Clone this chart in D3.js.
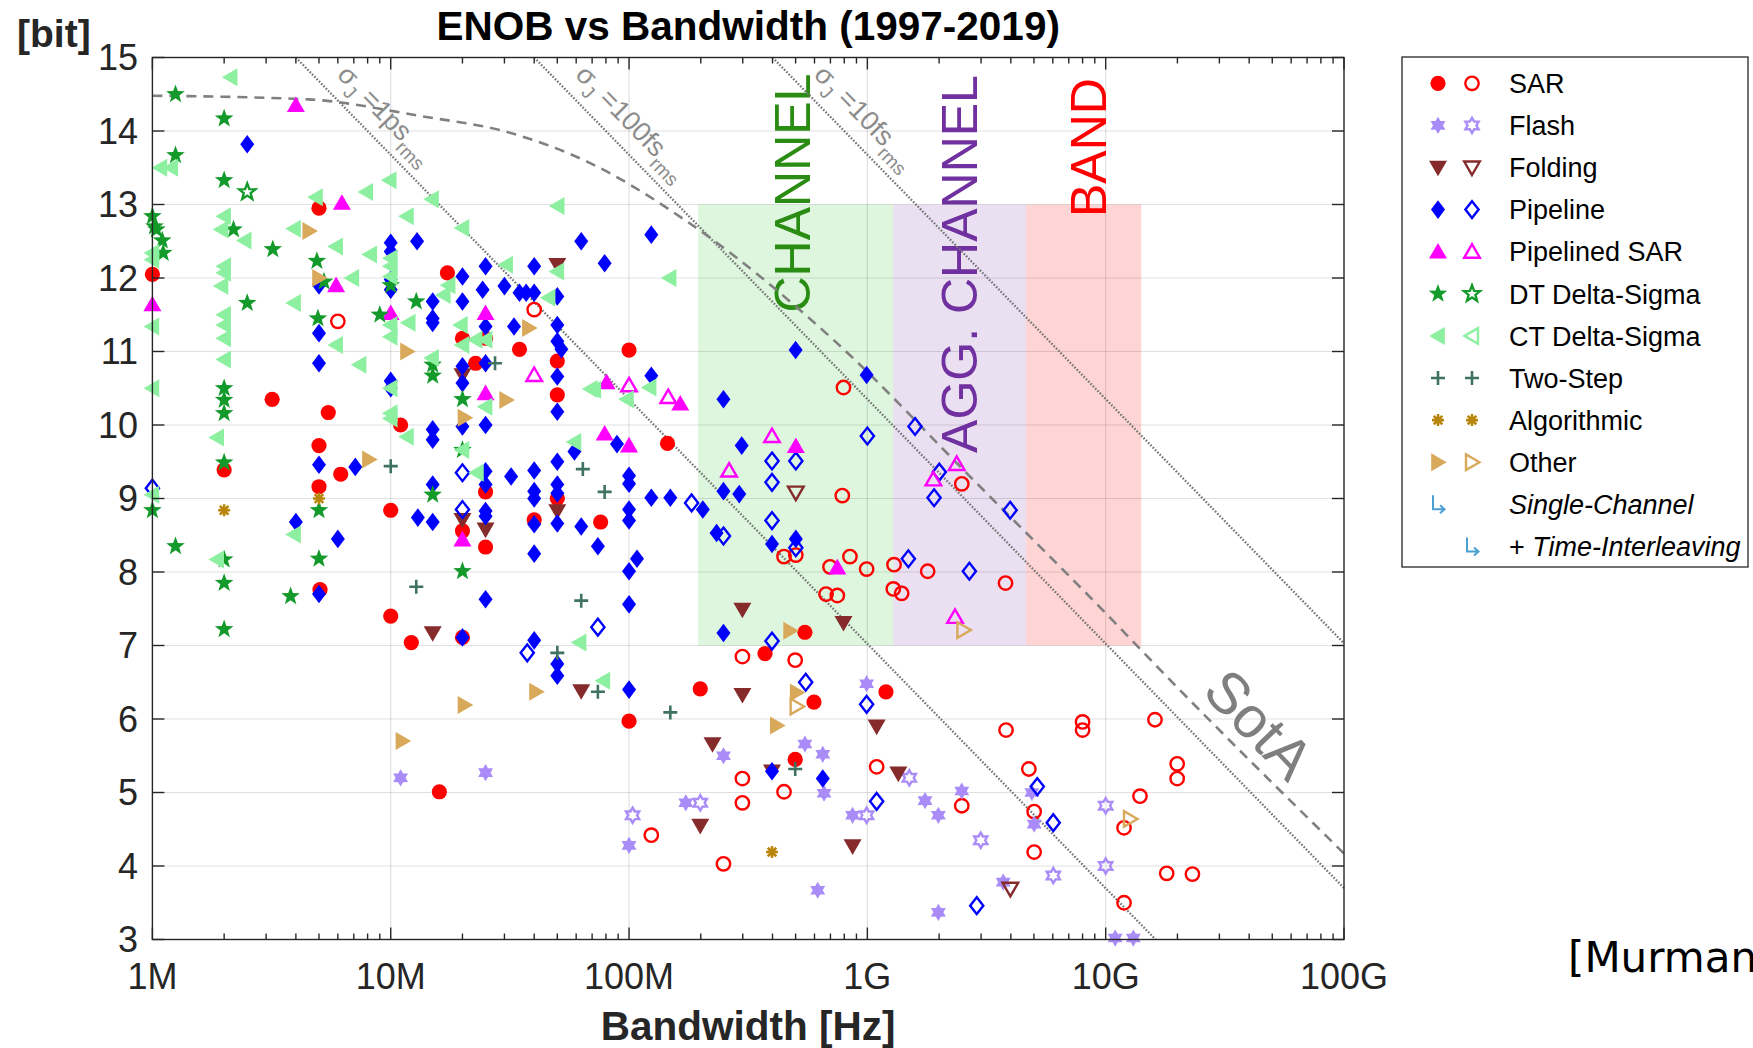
<!DOCTYPE html>
<html>
<head>
<meta charset="utf-8">
<script src="https://cdn.jsdelivr.net/npm/d3@7"></script>
<style>
  body { margin: 0; background: #fff; overflow: hidden; }
  svg { display: block; font-family: "Liberation Sans", Arial, sans-serif; }
</style>
</head>
<body>
<svg id="chart" width="1753" height="1048"></svg>
<script>
// [bandwidth in MHz, ENOB in bit]; filled = single channel, hollow = time-interleaved
const sarFilled = [[5,12.95],[1,12.05],[17.3,12.07],[22.7,10.84],[20,11.18],[25,11.18],[34.7,11.03],[50,10.87],[50,10.41],[3.18,10.35],[5.47,10.17],[5,9.72],[2,9.39],[6.17,9.33],[5,9.16],[11,10.0],[10,8.84],[20,8.56],[25,9.09],[25,8.34],[40,8.71],[50,9.0],[76,8.68],[5.05,7.76],[10,7.4],[12.2,7.04],[20,7.11],[100,11.02],[145,9.75],[547,7.18],[372,6.89],[199,6.41],[597,6.23],[1197,6.37],[100,5.97],[498,5.45],[16,5.01]];
const sarHollow = [[6,11.41],[40,11.57],[794,10.51],[785,9.04],[2490,9.2],[447,8.21],[501,8.23],[697,8.07],[845,8.21],[993,8.04],[671,7.7],[748,7.68],[1294,8.1],[1285,7.77],[1393,7.71],[1791,8.01],[3800,7.85],[299,6.85],[498,6.8],[299,5.19],[447,5.01],[299,4.86],[1094,5.35],[2490,4.82],[124,4.42],[249,4.03],[3819,5.85],[8000,5.96],[8000,5.85],[16100,5.99],[19950,5.39],[19950,5.19],[4760,5.32],[13930,4.95],[5010,4.74],[5010,4.19],[11940,4.52],[18030,3.9],[23120,3.89],[11940,3.5]];
const flashFilled = [[11,5.2],[25,5.27],[100,4.28],[173,4.86],[249,5.5],[547,5.66],[650,5.52],[658,4.99],[867,4.69],[993,6.48],[1746,4.89],[1986,4.69],[2490,5.02],[619,3.67],[1986,3.37],[4900,5.0],[5010,4.57],[3715,3.78],[10960,3.02],[13060,3.02]];
const flashHollow = [[103.5,4.69],[199,4.86],[993,4.69],[1500,5.2],[2990,4.35],[6030,3.87],[10000,4.82],[10000,4.0]];
const foldingFilled = [[50,12.18],[20,10.68],[20,8.71],[25,8.58],[50,8.83],[15,7.17],[63,6.38],[299,7.49],[794,7.31],[299,6.33],[224,5.66],[398,5.29],[1094,5.9],[1349,5.26],[199,4.55],[867,4.27]];
const foldingHollow = [[501,9.08],[3981,3.69]];
const pipelineFilled = [[2.5,13.82],[5,11.9],[5,11.25],[5,10.84],[10,12.48],[10,12.36],[10,11.98],[10,11.84],[10,10.6],[10,10.5],[12.9,12.5],[15,11.68],[15,11.45],[15,11.39],[20,12.02],[20,11.68],[20,10.8],[20,10.57],[25,12.16],[24.3,11.84],[25,11.34],[25,10.84],[30,11.89],[34.7,11.8],[37,11.8],[40,11.8],[32.9,11.34],[40,12.16],[50,11.75],[50,11.36],[50,11.14],[52,11.03],[50,10.66],[63,12.5],[79,12.2],[124,12.59],[500,11.02],[5,9.46],[7.1,9.43],[4,8.68],[6,8.45],[5,7.7],[15,9.94],[15,9.8],[20,9.98],[25,10.0],[50,10.18],[59,9.64],[25,9.37],[25,9.19],[32,9.3],[40,9.38],[40,9.1],[40,9.0],[40,8.65],[40,8.25],[50,9.5],[50,9.19],[50,9.07],[50,8.66],[15,9.19],[15,8.68],[13,8.74],[25,8.83],[25,8.76],[63,8.62],[74,8.35],[25,7.63],[20,7.11],[40,7.07],[50,6.75],[50,6.59],[124,10.67],[249,10.35],[89,9.74],[297,9.72],[100,9.31],[100,9.2],[124,9.01],[149,9.01],[204,8.85],[100,8.85],[100,8.7],[249,9.1],[290,9.06],[233,8.53],[398,8.38],[501,8.45],[108,8.18],[100,8.01],[100,7.56],[249,7.17],[993,10.68],[100,6.4],[398,5.29],[650,5.19]];
const pipelineHollow = [[1,9.14],[20,9.35],[20,8.85],[37.4,6.9],[74,7.25],[398,9.51],[501,9.51],[398,9.22],[1000,9.85],[1585,9.98],[2004,9.36],[1905,9.01],[183,8.94],[398,8.7],[249,8.49],[501,8.33],[1486,8.18],[2679,8.01],[398,7.06],[551,6.5],[993,6.2],[1094,4.88],[2877,3.46],[3972,8.84],[5164,5.08],[6026,4.59]];
const pipeSarFilled = [[4,14.35],[6.24,13.02],[5.9,11.9],[1,11.64],[10,11.52],[25,11.52],[25,10.43],[20,8.44],[80.5,10.58],[164,10.29],[79,9.88],[100,9.72],[501,9.71],[748,8.06]];
const pipeSarHollow = [[40,10.68],[100,10.54],[146,10.38],[398,9.85],[263,9.38],[2371,9.47],[1892,9.26],[2333,7.39]];
const dtFilled = [[1.25,14.5],[2,14.17],[1.25,13.67],[2,13.33],[1,12.84],[1.02,12.7],[1.04,12.66],[1.1,12.51],[1.11,12.34],[2.19,12.66],[3.2,12.39],[2.5,11.66],[4.9,12.23],[5.25,11.95],[4.95,11.45],[9,11.5],[10,11.9],[12.8,11.68],[15,10.82],[15,10.67],[20,10.35],[2,10.5],[2,10.34],[2,10.16],[2,9.49],[1,8.84],[5,8.84],[1.25,8.35],[2,8.17],[2,7.85],[2,7.22],[5,8.18],[3.8,7.67],[15,9.05],[20,8.01],[20,9.66]];
const dtHollow = [[2.5,13.17]];
const ctFilled = [[2.13,14.73],[1.08,13.5],[1.2,13.5],[9.9,13.33],[7.9,13.17],[4.86,13.1],[14.9,13.07],[50.2,12.98],[1,12.34],[1,12.25],[1,11.34],[1,10.5],[2,12.84],[1.95,12.66],[2,12.16],[2,12.07],[1.95,11.89],[2,11.5],[2,11.36],[2,11.18],[2,10.89],[2.44,12.51],[3.93,12.67],[3.93,11.66],[5.9,12.43],[6.9,12.0],[8.2,12.32],[5.9,11.09],[7.4,10.82],[10,12.27],[10,12.16],[10,12.02],[10,11.36],[10,11.2],[10,10.5],[11.7,12.84],[11.9,11.39],[14.9,10.91],[17.5,11.9],[16.7,11.77],[20,12.68],[19.7,11.36],[20,11.09],[22.7,11.16],[25,11.16],[30.5,12.18],[50,12.09],[46,11.73],[71.5,10.48],[69,10.49],[10,10.16],[10,10.09],[11.7,9.84],[20,9.66],[25,10.25],[59,9.77],[1.87,9.83],[1,9.05],[3.93,8.51],[1.87,8.17],[23,9.35],[62,7.04],[78,6.52],[148,12.0],[98,10.35],[122,10.51]];
const ctHollow = [];
const twoStepFilled = [[27.4,10.84],[10,9.44],[64,9.4],[79,9.09],[12.8,7.8],[63,7.61],[50,6.9],[74,6.37],[149,6.09],[498,5.32]];
const twoStepHollow = [];
const algoFilled = [[2,8.84],[5,9.0],[398,4.19]];
const algoHollow = [];
const otherFilled = [[4.55,12.64],[5,12.0],[11.7,11.0],[38,11.32],[8.1,9.53],[30.5,10.34],[20.4,10.1],[40.7,6.37],[20.4,6.19],[11.2,5.7],[474,7.2],[505,6.36],[417,5.91]];
const otherHollow = [[505,6.17],[2529,7.21],[12650,4.64]];

// reference curves: [MHz, ENOB]
const jitter1ps = [[4, 15], [16200, 3]];
const jitter100fs = [[40, 15], [100000, 3.7]];
const jitter10fs = [[400, 15], [100000, 7.03]];
const sotaCurve = [[1,14.48],[4.5,14.43],[13.5,14.2],[30.5,13.99],[68,13.57],[175,12.77],[720,11.16],[2790,9.25],[10000,7.44],[18000,6.58],[100000,4.17]];

// shaded design regions [MHz from, MHz to], ENOB span
const regionBounds = [[195, 1285], [1285, 4630], [4630, 14100]];
const regionNames = ["CHANNEL", "AGG. CHANNEL", "BAND"];
const regionEnob = [7, 13];

const xTickValues = [1e6, 1e7, 1e8, 1e9, 1e10, 1e11];
const xTickLabels = ["1M", "10M", "100M", "1G", "10G", "100G"];
const yTickValues = [3, 4, 5, 6, 7, 8, 9, 10, 11, 12, 13, 14, 15];

const svg = d3.select("#chart");
const X0 = 152.4, X1 = 1344, Y0 = 57.5, Y1 = 939.5;
const x = d3.scaleLog().domain([1e6, 1e11]).range([X0, X1]);
const y = d3.scaleLinear().domain([3, 15]).range([Y1, Y0]);
const px = d => x(d[0] * 1e6), py = d => y(d[1]);
const axisColor = "#262626";

// marker shapes
function starPath(n, R, r) {
  const p = [];
  for (let i = 0; i < 2 * n; i++) {
    const a = -Math.PI / 2 + i * Math.PI / n;
    const rad = i % 2 ? r : R;
    p.push([(rad * Math.cos(a)).toFixed(2), (rad * Math.sin(a)).toFixed(2)]);
  }
  return "M" + p.join("L") + "Z";
}
const shapes = {
  circle: h => { const r = h ? 6.7 : 7.6; return `M${r},0A${r},${r} 0 1,1 ${-r},0A${r},${r} 0 1,1 ${r},0Z`; },
  diamond: h => h ? "M0,-8.4L6.6,0L0,8.4L-6.6,0Z" : "M0,-9.3L7,0L0,9.3L-7,0Z",
  up: h => h ? "M0,-7.5L7.8,6L-7.8,6Z" : "M0,-8.8L9,6.8L-9,6.8Z",
  down: h => h ? "M0,7.5L7.8,-6L-7.8,-6Z" : "M0,8.8L9,-6.8L-9,-6.8Z",
  left: h => h ? "M-7.5,0L6,-7.8L6,7.8Z" : "M-8.8,0L6.8,-9L6.8,9Z",
  right: h => h ? "M7.5,0L-6,-7.8L-6,7.8Z" : "M8.8,0L-6.8,-9L-6.8,9Z",
  pentagram: h => h ? starPath(5, 8.5, 3.6) : starPath(5, 9.8, 4),
  hexagram: h => h ? starPath(6, 7.6, 4.4) : starPath(6, 8.6, 5),
  plus: () => "M-7,0H7M0,-7V7",
  asterisk: () => "M-6,0H6M0,-6V6M-4.3,-4.3L4.3,4.3M-4.3,4.3L4.3,-4.3"
};
const strokeOnly = new Set(["plus", "asterisk"]);

const series = [
  { name: "SAR", shape: "circle", color: "#ff0000", filled: sarFilled, hollow: sarHollow },
  { name: "Flash", shape: "hexagram", color: "#a98cf7", filled: flashFilled, hollow: flashHollow },
  { name: "Folding", shape: "down", color: "#862b2b", filled: foldingFilled, hollow: foldingHollow },
  { name: "Pipeline", shape: "diamond", color: "#0000ff", filled: pipelineFilled, hollow: pipelineHollow },
  { name: "Pipelined SAR", shape: "up", color: "#ff00ff", filled: pipeSarFilled, hollow: pipeSarHollow },
  { name: "DT Delta-Sigma", shape: "pentagram", color: "#139a2b", filled: dtFilled, hollow: dtHollow },
  { name: "CT Delta-Sigma", shape: "left", color: "#8cf0a0", filled: ctFilled, hollow: ctHollow },
  { name: "Two-Step", shape: "plus", color: "#3f7260", filled: twoStepFilled, hollow: twoStepHollow },
  { name: "Algorithmic", shape: "asterisk", color: "#b8860b", filled: algoFilled, hollow: algoHollow },
  { name: "Other", shape: "right", color: "#d9a95b", filled: otherFilled, hollow: otherHollow }
];

function drawMarker(sel, s, hollow) {
  sel.attr("d", shapes[s.shape](hollow));
  if (strokeOnly.has(s.shape)) {
    sel.attr("fill", "none").attr("stroke", s.color).attr("stroke-width", 2.6);
  } else if (hollow) {
    sel.attr("fill", "none").attr("stroke", s.color).attr("stroke-width", 2.4).attr("stroke-linejoin", "miter");
  } else {
    sel.attr("fill", s.color).attr("stroke", "none");
  }
}

// regions
const regionFill = ["#33cc33", "#7030a0", "#ff0000"];
const regionOpacity = [0.17, 0.15, 0.17];
const regionText = ["#2a8c12", "#7030a0", "#ff0000"];
const regions = svg.append("g");
regionBounds.forEach((b, i) => {
  regions.append("rect")
    .attr("x", x(b[0] * 1e6)).attr("width", x(b[1] * 1e6) - x(b[0] * 1e6))
    .attr("y", y(regionEnob[1])).attr("height", y(regionEnob[0]) - y(regionEnob[1]))
    .attr("fill", regionFill[i]).attr("fill-opacity", regionOpacity[i]);
});

// grid
const grid = svg.append("g").attr("stroke", "#000").attr("stroke-opacity", 0.12).attr("stroke-width", 1.2);
xTickValues.slice(1, -1).forEach(v => grid.append("line").attr("x1", x(v)).attr("x2", x(v)).attr("y1", Y0).attr("y2", Y1));
yTickValues.slice(1, -1).forEach(v => grid.append("line").attr("x1", X0).attr("x2", X1).attr("y1", y(v)).attr("y2", y(v)));

// region labels
const labelPos = [[575, 11.53], [2884, 9.62], [10000, 12.83]];
regionNames.forEach((t, i) => {
  const p = labelPos[i];
  svg.append("text")
    .attr("transform", `translate(${x(p[0] * 1e6)},${y(p[1])}) rotate(-90)`)
    .attr("fill", regionText[i]).attr("font-size", 50).text(t);
});

// jitter lines
const lineGen = d3.line().x(px).y(py);
const jitterLines = [[jitter1ps, "1ps"], [jitter100fs, "100fs"], [jitter10fs, "10fs"]];
jitterLines.forEach(([pts, lab]) => {
  svg.append("path").attr("d", lineGen(pts)).attr("fill", "none")
    .attr("stroke", "#747474").attr("stroke-width", 2.3).attr("stroke-dasharray", "1.6,1.7");
  const p0 = [px(pts[0]), py(pts[0])], p1 = [px(pts[1]), py(pts[1])];
  const ang = Math.atan2(p1[1] - p0[1], p1[0] - p0[0]);
  const t = (15 - 14.6) / (pts[0][1] - pts[1][1]);
  const bx = p0[0] + t * (p1[0] - p0[0]) + 16 * Math.sin(ang);
  const by = p0[1] + t * (p1[1] - p0[1]) - 16 * Math.cos(ang);
  const txt = svg.append("text")
    .attr("transform", `translate(${bx},${by}) rotate(${ang * 180 / Math.PI})`)
    .attr("fill", "#8c8c8c").attr("font-size", 27);
  txt.append("tspan").text("σ");
  txt.append("tspan").attr("dy", 8).attr("font-size", 19).text("J");
  txt.append("tspan").attr("dy", -8).text(" =" + lab);
  txt.append("tspan").attr("dy", 9).attr("font-size", 19).text("rms");
});

// state of the art envelope
svg.append("path")
  .attr("d", d3.line().x(px).y(py).curve(d3.curveMonotoneX)(sotaCurve))
  .attr("fill", "none").attr("stroke", "#808080").attr("stroke-width", 2.6)
  .attr("stroke-dasharray", "10,7");
svg.append("text")
  .attr("transform", `translate(${x(4.4e10)},${y(5.93)}) rotate(46)`)
  .attr("text-anchor", "middle").attr("dy", "0.35em")
  .attr("fill", "#7f7f7f").attr("font-size", 58).text("SotA");

// points
const pts = svg.append("g");
series.forEach(s => {
  pts.selectAll(null).data(s.filled).enter().append("path")
    .attr("transform", d => `translate(${px(d)},${py(d)})`)
    .call(sel => drawMarker(sel, s, false));
  pts.selectAll(null).data(s.hollow).enter().append("path")
    .attr("transform", d => `translate(${px(d)},${py(d)})`)
    .call(sel => drawMarker(sel, s, true));
});

// axes box with inward ticks
const minorX = [];
for (let e = 6; e < 11; e++) for (let k = 2; k <= 9; k++) minorX.push(k * Math.pow(10, e));
const axes = svg.append("g").attr("stroke", axisColor).attr("stroke-width", 1.4);
axes.append("rect").attr("x", X0).attr("y", Y0).attr("width", X1 - X0).attr("height", Y1 - Y0).attr("fill", "none");
minorX.forEach(v => {
  axes.append("line").attr("x1", x(v)).attr("x2", x(v)).attr("y1", Y1).attr("y2", Y1 - 6);
  axes.append("line").attr("x1", x(v)).attr("x2", x(v)).attr("y1", Y0).attr("y2", Y0 + 6);
});
xTickValues.forEach(v => {
  axes.append("line").attr("x1", x(v)).attr("x2", x(v)).attr("y1", Y1).attr("y2", Y1 - 12);
  axes.append("line").attr("x1", x(v)).attr("x2", x(v)).attr("y1", Y0).attr("y2", Y0 + 12);
});
yTickValues.forEach(v => {
  axes.append("line").attr("x1", X0).attr("x2", X0 + 12).attr("y1", y(v)).attr("y2", y(v));
  axes.append("line").attr("x1", X1).attr("x2", X1 - 12).attr("y1", y(v)).attr("y2", y(v));
});

svg.append("g").selectAll("text").data(xTickValues).enter().append("text")
  .attr("x", d => x(d)).attr("y", 989).attr("text-anchor", "middle")
  .attr("font-size", 36).attr("fill", axisColor)
  .text((d, i) => xTickLabels[i]);
svg.append("g").selectAll("text").data(yTickValues).enter().append("text")
  .attr("x", 138).attr("y", d => y(d)).attr("dy", "0.36em").attr("text-anchor", "end")
  .attr("font-size", 36).attr("fill", axisColor)
  .text(d => d);

// titles
svg.append("text").attr("x", (X0 + X1) / 2).attr("y", 40).attr("text-anchor", "middle")
  .attr("font-size", 40.5).attr("font-weight", "bold").attr("fill", "#000")
  .text("ENOB vs Bandwidth (1997-2019)");
svg.append("text").attr("x", (X0 + X1) / 2).attr("y", 1040).attr("text-anchor", "middle")
  .attr("font-size", 40.5).attr("font-weight", "bold").attr("fill", axisColor)
  .text("Bandwidth [Hz]");
svg.append("text").attr("x", 17).attr("y", 47)
  .attr("font-size", 39).attr("font-weight", "bold").attr("fill", axisColor)
  .text("[bit]");
svg.append("text").attr("x", 1568).attr("y", 972)
  .attr("font-family", "DejaVu Sans").attr("font-size", 42).attr("fill", "#000")
  .text("[Murmann]");

// legend
const leg = svg.append("g");
leg.append("rect").attr("x", 1402).attr("y", 57).attr("width", 346).attr("height", 510)
  .attr("fill", "#fff").attr("stroke", axisColor).attr("stroke-width", 1.3);
const rowY = i => 83.3 + i * 42.1;
series.forEach((s, i) => {
  leg.append("path").attr("transform", `translate(1438,${rowY(i)})`).call(sel => drawMarker(sel, s, false));
  leg.append("path").attr("transform", `translate(1472,${rowY(i)})`).call(sel => drawMarker(sel, s, true));
  leg.append("text").attr("x", 1509).attr("y", rowY(i) + 9.7).attr("font-size", 27).attr("fill", "#000").text(s.name);
});
const arrow = "M-5,-9V5H6M2,1L6.5,5L2,9";
[[1438, 10], [1472, 11]].forEach(([ax, i]) => {
  leg.append("path").attr("transform", `translate(${ax},${rowY(i)})`).attr("d", arrow)
    .attr("fill", "none").attr("stroke", "#4aa0d2").attr("stroke-width", 2);
});
leg.append("text").attr("x", 1509).attr("y", rowY(10) + 9.7).attr("font-size", 27)
  .attr("font-style", "italic").attr("fill", "#000").text("Single-Channel");
const ti = leg.append("text").attr("x", 1509).attr("y", rowY(11) + 9.7).attr("font-size", 27).attr("fill", "#000");
ti.append("tspan").text("+ ");
ti.append("tspan").attr("font-style", "italic").text("Time-Interleaving");
</script>
</body>
</html>
